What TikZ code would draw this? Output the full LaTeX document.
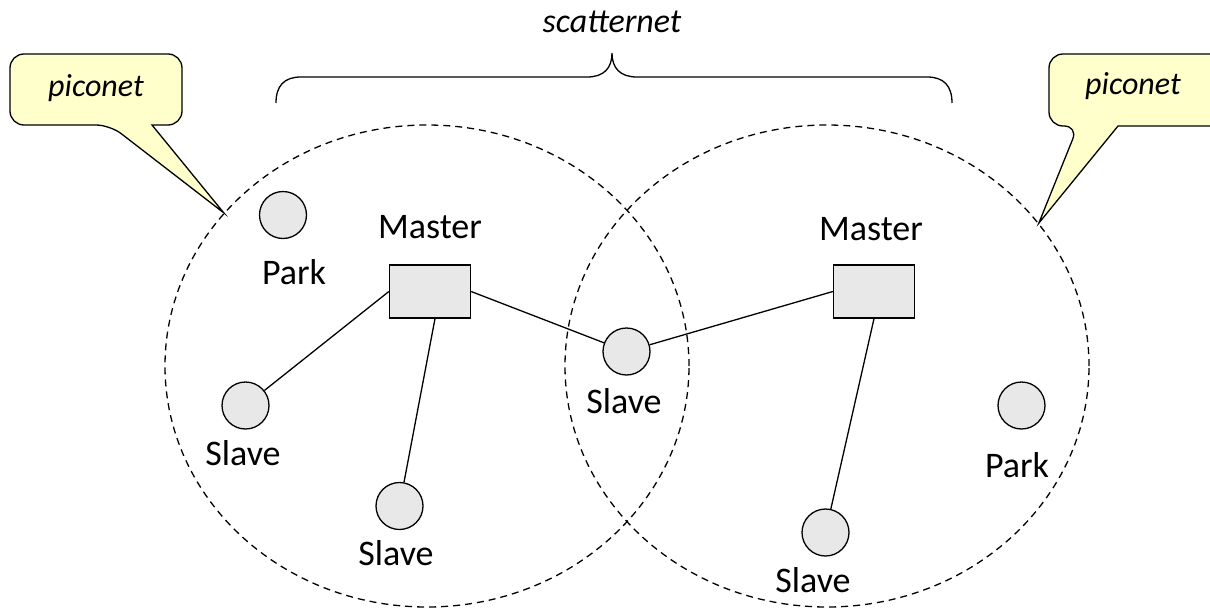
\documentclass[tikz,border=0pt]{standalone}
\usepackage{fontspec}
\setmainfont{Carlito}
\usetikzlibrary{shapes.geometric,calc}
\definecolor{devgray}{HTML}{E8E8E8}
\definecolor{notey}{HTML}{FFFFCC}
\begin{document}
\begin{tikzpicture}[x=1pt,y=-1pt,
  dev/.style={circle,draw,line width=1.3pt,fill=devgray,minimum size=47pt,inner sep=0pt},
  masterbox/.style={rectangle,draw,line width=1.3pt,fill=devgray,minimum width=81pt,minimum height=53pt,inner sep=0pt},
  lbl/.style={font=\fontsize{36}{42}\selectfont,inner sep=0pt},
  ilbl/.style={font=\fontsize{32}{38}\selectfont\itshape,inner sep=0pt},
  link/.style={line width=1.3pt},
  net/.style={ellipse,draw,dashed,dash pattern=on 7pt off 5pt,line width=1.3pt,minimum width=524pt,minimum height=482pt,inner sep=0pt},
  callout/.style={draw,line width=1.3pt,fill=notey,line join=miter}
]
\useasboundingbox (0,0) rectangle (1210,608);
\clip (0,0) rectangle (1210,608);
\fill[white] (0,0) rectangle (1210,608);

% piconets
\node[net] (pico1) at (427,366) {};
\node[net] (pico2) at (827,366) {};

% callouts
\draw[callout] (110,125) -- (pico1.143.6) -- (152,125) [rounded corners=14pt] -- (182,125) -- (182,54) -- (10,54) -- (10,125) -- cycle;
\node[ilbl] (pc1) at (96,88) {piconet};
\draw[callout] (1078,126) -- (pico2.34.6) -- (1118,126) [rounded corners=14pt] -- (1225,126) -- (1225,54) -- (1049,54) -- (1049,126) -- cycle;
\node[ilbl] (pc2) at (1133,86) {piconet};

% brace
\coordinate (btip) at (612,53);
\draw[link] (276,103) .. controls (276,86) and (284,77) .. (301,77) -- (587,77)
  .. controls (604,77) and (612,68) .. (btip)
  .. controls (612,68) and (620,77) .. (637,77) -- (927,77)
  .. controls (944,77) and (952,86) .. (952,103);
\node[ilbl,font=\fontsize{34}{40}\selectfont\itshape] (scat) at (612,22) {scatternet};

% devices
\node[masterbox] (m1) at (430,291.5) {};
\node[masterbox] (m2) at (874,291.5) {};
\node[lbl] (m1l) at (430,227) {Master};
\node[lbl] (m2l) at (871,229) {Master};

\node[dev] (p1) at (283,215) {};
\node[lbl] (p1l) at (294,272) {Park};
\node[dev] (s1) at (245.5,405.5) {};
\node[lbl] (s1l) at (243,453) {Slave};
\node[dev] (s2) at (399.5,506) {};
\node[lbl] (s2l) at (396,553) {Slave};
\node[dev] (sm) at (626.5,351.5) {};
\node[lbl] (sml) at (624,401) {Slave};
\node[dev] (s3) at (825.5,532.5) {};
\node[lbl] (s3l) at (813,580) {Slave};
\node[dev] (p2) at (1021.5,405.5) {};
\node[lbl] (p2l) at (1017,465) {Park};

% links
\draw[link] (s1) -- (m1.west);
\draw[link] (s2) -- ($(m1.south)+(5,0)$);
\draw[link] (m1.east) -- (sm);
\draw[link] (sm) -- (m2.west);
\draw[link] (m2.south) -- (s3);
\end{tikzpicture}
\end{document}
